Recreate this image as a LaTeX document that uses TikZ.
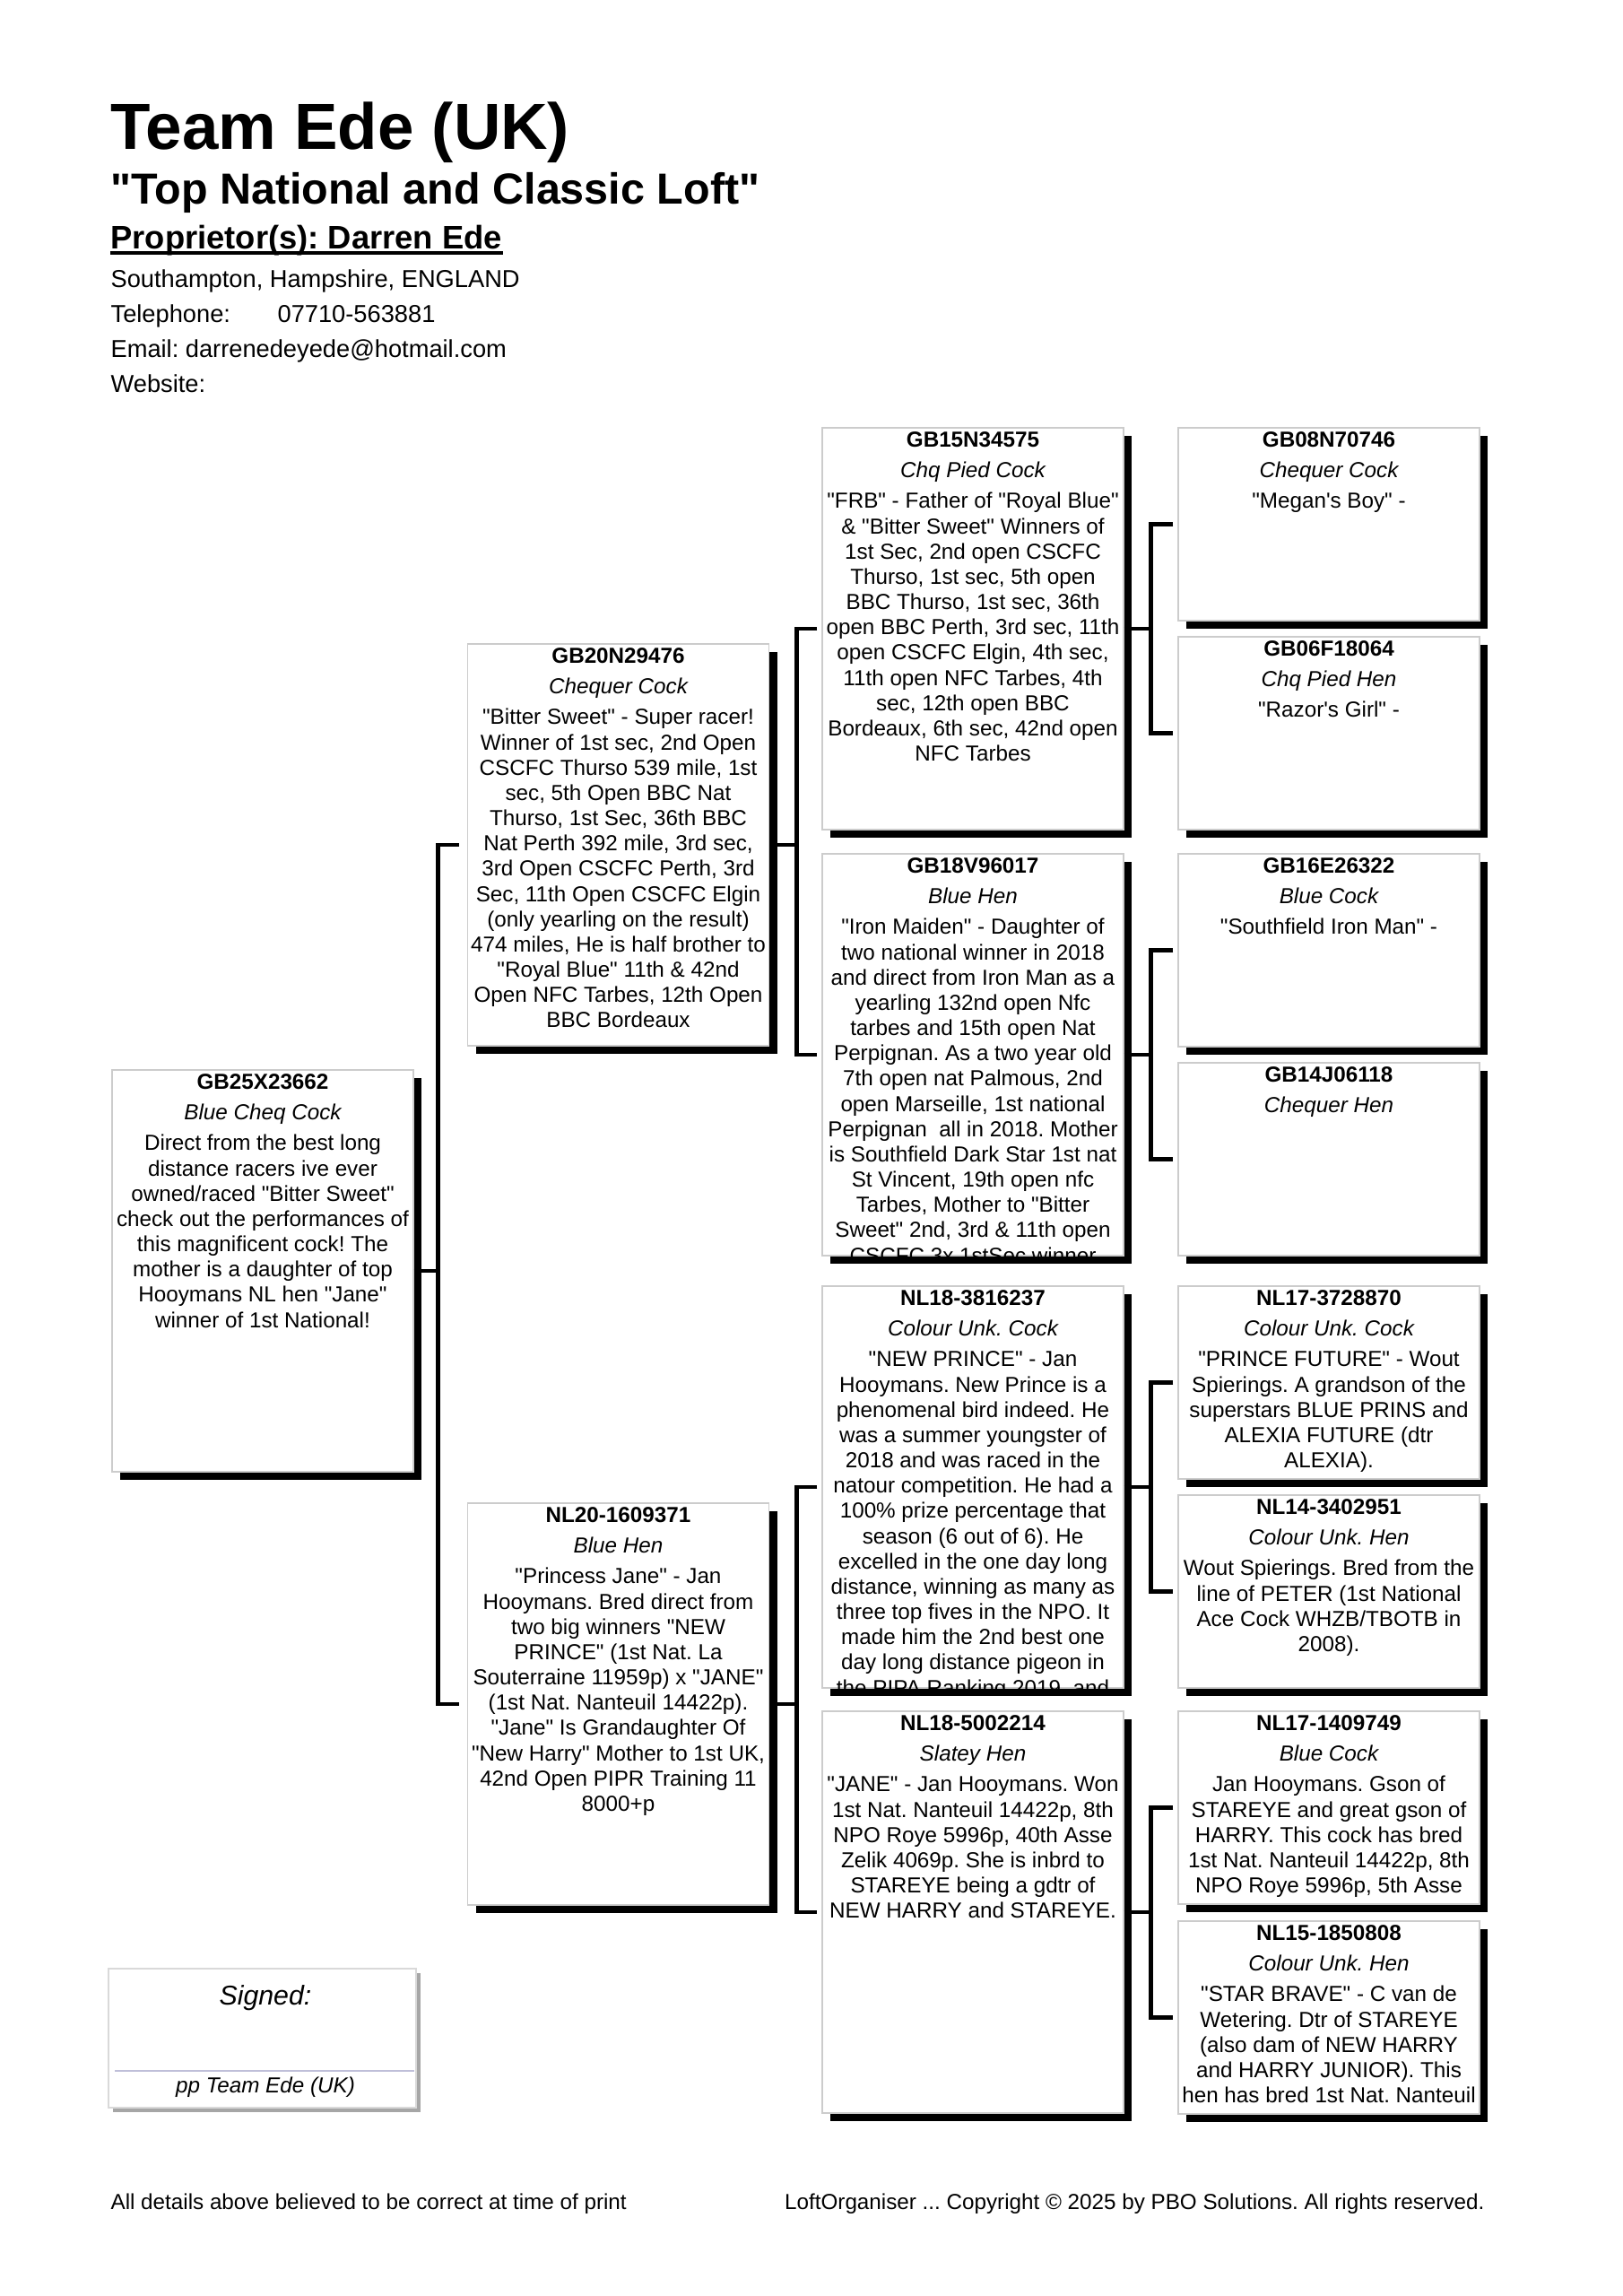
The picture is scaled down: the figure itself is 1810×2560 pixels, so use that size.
\documentclass[tikz,border=0pt]{standalone}
\usepackage{fontspec}
\setmainfont{Liberation Sans}[Ligatures=TeXOff]
\usetikzlibrary{calc,shadows}
\frenchspacing

\newcommand{\pxu}{0.116022mm}

% one pedigree card: name, centre x, top y, height, ring, colour, notes
\newcommand{\birdcard}[7]{%
  \node[card, minimum height=#4*\pxu] (#1) at (#2,{#3+#4/2}) {};
  \node[ringtxt] (#1-ring) at ($(#1.north)+(0,22)$) {#5};
  \node[colourtxt] (#1-colour) at ($(#1.north)+(0,56)$) {#6};
  \begin{scope}
    \clip (#1.north west) rectangle (#1.south east);
    \node[notetxt] (#1-notes) at ($(#1.north)+(0,70.2)$) {\strut #7};
  \end{scope}
}

\tikzset{
  card/.style={draw=gray!40, line width=0.4pt, fill=white, inner sep=0,
    minimum width=336*\pxu,
    drop shadow={shadow xshift=9*\pxu, shadow yshift=-9*\pxu, fill=black, opacity=1}},
  ringtxt/.style={anchor=base, inner sep=0, font=\fontsize{8pt}{9.3pt}\selectfont\bfseries},
  colourtxt/.style={anchor=base, inner sep=0, font=\fontsize{8pt}{9.3pt}\selectfont\itshape},
  notetxt/.style={anchor=north, inner sep=0, align=center, font=\fontsize{8pt}{9.3pt}\selectfont},
  link/.style={line width=1.6pt},
  headtxt/.style={anchor=base west, inner sep=0},
  signbox/.style={draw=gray!30, fill=white, inner sep=0,
    minimum width=343*\pxu, minimum height=155*\pxu,
    drop shadow={shadow xshift=5*\pxu, shadow yshift=-5*\pxu, fill=gray!70, opacity=1}}
}

\begin{document}
\begin{tikzpicture}[x=0.116022mm, y=-0.116022mm]

    % page
    \useasboundingbox (0,0) rectangle (1810,2560);
    \fill[white] (0,0) rectangle (1810,2560);

    % loft header
    \node[headtxt, font=\fontsize{24pt}{28pt}\selectfont\bfseries] (loft) at (123,166) {Team Ede (UK)};
    \node[headtxt, font=\fontsize{16pt}{19pt}\selectfont\bfseries] (motto) at (123,227) {"Top National and Classic Loft"};
    \node[headtxt, font=\fontsize{12pt}{14pt}\selectfont\bfseries] (owner) at (123,277) {Proprietor(s): Darren Ede};
    \draw[line width=1.1pt] ($(owner.base west)+(0,5)$) -- ($(owner.base east)+(0,5)$);
    \node[headtxt, font=\fontsize{9pt}{11pt}\selectfont] (town) at (123,320) {Southampton, Hampshire, ENGLAND};
    \node[headtxt, font=\fontsize{9pt}{11pt}\selectfont] (phone) at (123,359) {Telephone:};
    \node[headtxt, font=\fontsize{9pt}{11pt}\selectfont] (phoneno) at (309,359) {07710-563881};
    \node[headtxt, font=\fontsize{9pt}{11pt}\selectfont] (mail) at (123,398) {Email: darrenedeyede@hotmail.com};
    \node[headtxt, font=\fontsize{9pt}{11pt}\selectfont] (web) at (123,437) {Website:};

    % the bird
    \birdcard{bird}{293}{1193}{448}{GB25X23662}{Blue Cheq Cock}{Direct from the best long\\distance racers ive ever\\owned/raced "Bitter Sweet"\\check out the performances of\\this magnificent cock! The\\mother is a daughter of top\\Hooymans NL hen "Jane"\\winner of 1st National!}

    % parents
    \birdcard{s}{689.5}{718}{448}{GB20N29476}{Chequer Cock}{"Bitter Sweet" - Super racer!\\Winner of 1st sec, 2nd Open\\CSCFC Thurso 539 mile, 1st\\sec, 5th Open BBC Nat\\Thurso, 1st Sec, 36th BBC\\Nat Perth 392 mile, 3rd sec,\\3rd Open CSCFC Perth, 3rd\\Sec, 11th Open CSCFC Elgin\\(only yearling on the result)\\474 miles, He is half brother to\\"Royal Blue" 11th \& 42nd\\Open NFC Tarbes, 12th Open\\BBC Bordeaux}
    \birdcard{d}{689.5}{1676}{448}{NL20-1609371}{Blue Hen}{"Princess Jane" - Jan\\Hooymans. Bred direct from\\two big winners "NEW\\PRINCE" (1st Nat. La\\Souterraine 11959p) x "JANE"\\(1st Nat. Nanteuil 14422p).\\"Jane" Is Grandaughter Of\\"New Harry" Mother to 1st UK,\\42nd Open PIPR Training 11\\8000+p}

    % grandparents
    \birdcard{ss}{1085}{477}{448}{GB15N34575}{Chq Pied Cock}{"FRB" - Father of "Royal Blue"\\\& "Bitter Sweet" Winners of\\1st Sec, 2nd open CSCFC\\Thurso, 1st sec, 5th open\\BBC Thurso, 1st sec, 36th\\open BBC Perth, 3rd sec, 11th\\open CSCFC Elgin, 4th sec,\\11th open NFC Tarbes, 4th\\sec, 12th open BBC\\Bordeaux, 6th sec, 42nd open\\NFC Tarbes}
    \birdcard{sd}{1085}{952}{448}{GB18V96017}{Blue Hen}{"Iron Maiden" - Daughter of\\two national winner in 2018\\and direct from Iron Man as a\\yearling 132nd open Nfc\\tarbes and 15th open Nat\\Perpignan. As a two year old\\7th open nat Palmous, 2nd\\open Marseille, 1st national\\Perpignan\ \ all in 2018. Mother\\is Southfield Dark Star 1st nat\\St Vincent, 19th open nfc\\Tarbes, Mother to "Bitter\\Sweet" 2nd, 3rd \& 11th open\\CSCFC 3x 1stSec winner}
    \birdcard{ds}{1085}{1434}{448}{NL18-3816237}{Colour Unk. Cock}{"NEW PRINCE" - Jan\\Hooymans. New Prince is a\\phenomenal bird indeed. He\\was a summer youngster of\\2018 and was raced in the\\natour competition. He had a\\100\% prize percentage that\\season (6 out of 6). He\\excelled in the one day long\\distance, winning as many as\\three top fives in the NPO. It\\made him the 2nd best one\\day long distance pigeon in\\the PIPA Ranking 2019, and}
    \birdcard{dd}{1085}{1908}{448}{NL18-5002214}{Slatey Hen}{"JANE" - Jan Hooymans. Won\\1st Nat. Nanteuil 14422p, 8th\\NPO Roye 5996p, 40th Asse\\Zelik 4069p. She is inbrd to\\STAREYE being a gdtr of\\NEW HARRY and STAREYE.}

    % great-grandparents
    \birdcard{sss}{1482}{477}{215}{GB08N70746}{Chequer Cock}{"Megan's Boy" -}
    \birdcard{ssd}{1482}{710}{215}{GB06F18064}{Chq Pied Hen}{"Razor's Girl" -}
    \birdcard{sds}{1482}{952}{215}{GB16E26322}{Blue Cock}{"Southfield Iron Man" -}
    \birdcard{sdd}{1482}{1185}{215}{GB14J06118}{Chequer Hen}{}
    \birdcard{dss}{1482}{1434}{215}{NL17-3728870}{Colour Unk. Cock}{"PRINCE FUTURE" - Wout\\Spierings. A grandson of the\\superstars BLUE PRINS and\\ALEXIA FUTURE (dtr\\ALEXIA).}
    \birdcard{dsd}{1482}{1667}{215}{NL14-3402951}{Colour Unk. Hen}{Wout Spierings. Bred from the\\line of PETER (1st National\\Ace Cock WHZB/TBOTB in\\2008).}
    \birdcard{dds}{1482}{1908}{215}{NL17-1409749}{Blue Cock}{Jan Hooymans. Gson of\\STAREYE and great gson of\\HARRY. This cock has bred\\1st Nat. Nanteuil 14422p, 8th\\NPO Roye 5996p, 5th Asse}
    \birdcard{ddd}{1482}{2142}{215}{NL15-1850808}{Colour Unk. Hen}{"STAR BRAVE" - C van de\\Wetering. Dtr of STAREYE\\(also dam of NEW HARRY\\and HARRY JUNIOR). This\\hen has bred 1st Nat. Nanteuil}

    % brackets
    \draw[link] (bird.east) -- ++(27,0);
    \draw[link] ($(s.west)+(-9,0)$) -| ($(bird.east)+(27,0)$) |- ($(d.west)+(-9,0)$);
    \foreach \p in {s,d,ss,sd,ds,dd} {
        \draw[link] (\p.east) -- ++(30,0);
        \draw[link] ($(\p s.west)+(-5,0)$) -| ($(\p.east)+(30,0)$) |- ($(\p d.west)+(-5,0)$);
    }

    % signature
    \node[signbox] (sign) at (292.5,2272.5) {};
    \node[anchor=base, inner sep=0, font=\fontsize{10pt}{12pt}\selectfont\itshape] (signed) at (296,2235) {Signed:};
    \draw[blue!25!gray!40, line width=0.8pt] ($(sign.west)+(8,36.5)$) -- ($(sign.east)+(-3,36.5)$);
    \node[anchor=base, inner sep=0, font=\fontsize{8pt}{9.3pt}\selectfont\itshape] (pp) at (296,2333) {pp Team Ede (UK)};

    % footer
    \node[headtxt, font=\fontsize{8pt}{9.3pt}\selectfont] (note) at (123,2463) {All details above believed to be correct at time of print};
    \node[anchor=base east, inner sep=0, font=\fontsize{8pt}{9.3pt}\selectfont] (copy) at (1656,2463) {LoftOrganiser ... Copyright © 2025 by PBO Solutions. All rights reserved.};

\end{tikzpicture}
\end{document}
